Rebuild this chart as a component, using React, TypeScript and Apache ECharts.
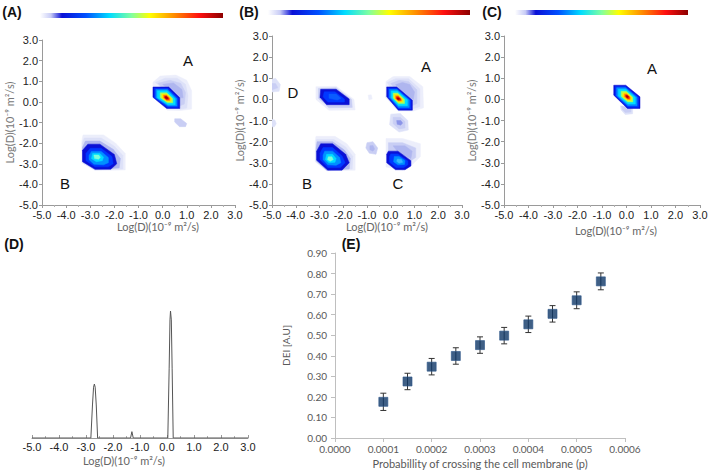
import React, { useEffect, useRef } from "react";
import * as echarts from "echarts";

// ---------- tick labels / axis ranges ----------
const LOG_MIN = -5;
const LOG_MAX = 3;
const AXIS_NAME = "Log(D)(10\u207B\u2079 m\u00B2/s)";

// ---------- Panel D: 1D projection spectrum ----------
const specLogD = [-5.0, -2.82, -2.76, -2.72, -2.69, -2.66, -2.62, -2.57, -1.35, -1.3, -1.25, 0.03, 0.08, 0.11, 0.13, 0.16, 0.19, 0.23, 3.0];
const specIntensity = [0, 0, 0.26, 0.4, 0.425, 0.4, 0.26, 0, 0, 0.05, 0, 0, 0.55, 0.93, 1.0, 0.93, 0.55, 0, 0];

// ---------- Panel E: DEI vs probability ----------
const probValues = [0.0001, 0.00015, 0.0002, 0.00025, 0.0003, 0.00035, 0.0004, 0.00045, 0.0005, 0.00055];
const deiValues = [0.176, 0.275, 0.347, 0.399, 0.452, 0.498, 0.553, 0.604, 0.67, 0.762];
const deiErrors = [0.042, 0.04, 0.04, 0.04, 0.04, 0.04, 0.04, 0.04, 0.041, 0.041];

// ---------- contour levels (level key, polygon in log-D coordinates) ----------
type Poly = [string, number[][]];

const contoursA: Poly[] = [
  // peak A halo
  ["l1", [[-0.4, 0.95], [-0.1, 1.25], [0.55, 1.3], [1.0, 1.05], [1.2, 0.55], [1.2, -0.35], [0.75, -0.42], [0.2, -0.4], [-0.42, 0.25]]],
  ["l2", [[-0.3, 0.95], [0.1, 1.15], [0.6, 1.15], [0.95, 0.85], [1.05, 0.3], [1.0, -0.3], [0.72, -0.36], [0.3, 0.3]]],
  ["l3", [[-0.2, 0.9], [0.3, 1.05], [0.75, 0.9], [0.95, 0.45], [0.9, -0.1], [0.7, -0.2], [0.3, 0.3]]],
  ["l4", [[0.0, 0.85], [0.45, 0.92], [0.8, 0.6], [0.85, 0.2], [0.6, 0.2]]],
  // peak A core
  ["db", [[-0.4, 0.72], [0.25, 0.72], [0.71, 0.2], [0.71, -0.32], [0.17, -0.32], [-0.4, 0.22]]],
  ["b", [[-0.34, 0.66], [0.22, 0.66], [0.65, 0.18], [0.65, -0.26], [0.2, -0.26], [-0.34, 0.2]]],
  ["lb", [[-0.28, 0.6], [0.2, 0.6], [0.59, 0.16], [0.59, -0.2], [0.22, -0.2], [-0.28, 0.2]]],
  ["c", [[-0.22, 0.54], [0.19, 0.54], [0.52, 0.15], [0.52, -0.14], [0.22, -0.14], [-0.22, 0.2]]],
  ["g", [[-0.1, 0.44], [0.17, 0.44], [0.42, 0.16], [0.42, -0.04], [0.2, -0.04], [-0.1, 0.2]]],
  ["y", [[-0.03, 0.38], [0.16, 0.38], [0.35, 0.17], [0.35, 0.02], [0.18, 0.02], [-0.03, 0.2]]],
  ["o", [[0.03, 0.33], [0.16, 0.33], [0.3, 0.18], [0.3, 0.07], [0.17, 0.07], [0.03, 0.2]]],
  ["r", [[0.08, 0.29], [0.16, 0.29], [0.25, 0.19], [0.25, 0.11], [0.16, 0.11], [0.08, 0.19]]],
  ["dr", [[0.11, 0.25], [0.17, 0.25], [0.21, 0.2], [0.21, 0.15], [0.15, 0.15], [0.11, 0.19]]],
  // small spot
  ["l3", [[0.5, -0.82], [0.75, -0.82], [1.0, -1.05], [0.95, -1.2], [0.7, -1.2], [0.5, -0.98]]],
  // peak B
  ["l1", [[-3.3, -1.6], [-2.45, -1.6], [-1.95, -2.0], [-1.55, -2.5], [-1.55, -3.3], [-2.8, -3.33], [-3.35, -2.95], [-3.35, -1.9]]],
  ["l2", [[-3.25, -1.75], [-2.55, -1.75], [-2.0, -2.15], [-1.65, -2.6], [-1.65, -3.25], [-2.8, -3.3], [-3.33, -2.95], [-3.33, -2.0]]],
  ["l4", [[-3.2, -1.9], [-2.6, -1.9], [-2.05, -2.3], [-1.75, -2.75], [-1.8, -3.2], [-2.8, -3.28], [-3.32, -2.9], [-3.32, -2.2]]],
  ["db", [[-3.1, -2.05], [-2.6, -2.05], [-2.0, -2.55], [-1.9, -3.0], [-2.15, -3.27], [-2.8, -3.27], [-3.32, -2.9], [-3.32, -2.35]]],
  ["b", [[-3.0, -2.25], [-2.55, -2.25], [-2.1, -2.65], [-2.05, -3.0], [-2.25, -3.15], [-2.8, -3.15], [-3.18, -2.85], [-3.18, -2.5]]],
  ["lb", [[-2.95, -2.4], [-2.55, -2.4], [-2.25, -2.7], [-2.25, -2.95], [-2.45, -3.05], [-2.85, -3.02], [-3.05, -2.8], [-3.05, -2.6]]],
  ["c", [[-2.9, -2.5], [-2.6, -2.5], [-2.45, -2.68], [-2.5, -2.85], [-2.75, -2.9], [-2.95, -2.75]]],
  ["aq", [[-2.85, -2.58], [-2.65, -2.58], [-2.58, -2.68], [-2.65, -2.78], [-2.82, -2.75]]],
];

const contoursB: Poly[] = [
  // left-edge faint spots
  ["l2", [[-5.0, 0.95], [-4.85, 1.0], [-4.65, 0.7], [-4.7, 0.38], [-5.0, 0.35]]],
  ["l3", [[-5.0, 0.75], [-4.85, 0.75], [-4.75, 0.55], [-5.0, 0.45]]],
  ["l2", [[-5.0, -0.95], [-4.88, -0.98], [-4.82, -1.15], [-4.9, -1.3], [-5.0, -1.3]]],
  ["l1", [[-0.95, 0.2], [-0.82, 0.22], [-0.78, 0.02], [-0.92, -0.02]]],
  // D
  ["l1", [[-3.15, 0.6], [-2.3, 0.62], [-1.55, 0.0], [-1.5, -0.5], [-2.6, -0.52], [-3.15, 0.0]]],
  ["l3", [[-3.05, 0.52], [-2.3, 0.55], [-1.65, 0.0], [-1.62, -0.38], [-2.6, -0.4], [-3.05, 0.05]]],
  ["db", [[-2.95, 0.48], [-2.3, 0.48], [-1.75, 0.02], [-1.75, -0.25], [-2.7, -0.25], [-2.98, 0.1]]],
  ["b", [[-2.8, 0.36], [-2.35, 0.36], [-1.95, 0.02], [-1.95, -0.13], [-2.65, -0.13], [-2.85, 0.12]]],
  ["b2", [[-2.6, 0.25], [-2.3, 0.25], [-2.1, 0.05], [-2.25, -0.03], [-2.6, 0.05]]],
  // A halo
  ["l1", [[-0.2, 0.85], [0.1, 1.08], [0.8, 1.08], [1.35, 0.6], [1.38, -0.4], [0.95, -0.55], [0.3, -0.55], [-0.22, 0.1]]],
  ["l2", [[-0.15, 0.8], [0.2, 0.98], [0.75, 0.98], [1.22, 0.5], [1.22, -0.35], [0.91, -0.45], [0.3, 0.0]]],
  ["l3", [[0.0, 0.75], [0.35, 0.9], [0.75, 0.85], [1.1, 0.45], [1.1, -0.2], [0.9, -0.3], [0.4, 0.2]]],
  ["l4", [[0.2, 0.7], [0.5, 0.8], [0.8, 0.7], [1.0, 0.35], [0.95, 0.0], [0.6, 0.2]]],
  // A core
  ["db", [[-0.17, 0.59], [0.25, 0.59], [0.91, -0.04], [0.91, -0.51], [0.32, -0.51], [-0.17, 0.12]]],
  ["b", [[-0.11, 0.53], [0.25, 0.53], [0.85, -0.04], [0.85, -0.45], [0.33, -0.45], [-0.11, 0.1]]],
  ["lb", [[-0.05, 0.47], [0.26, 0.47], [0.78, -0.03], [0.78, -0.38], [0.33, -0.38], [-0.05, 0.1]]],
  ["c", [[0.02, 0.4], [0.27, 0.4], [0.7, -0.02], [0.7, -0.3], [0.33, -0.3], [0.02, 0.08]]],
  ["g", [[0.1, 0.3], [0.29, 0.3], [0.58, 0.0], [0.58, -0.2], [0.33, -0.2], [0.1, 0.06]]],
  ["y", [[0.15, 0.23], [0.3, 0.23], [0.5, 0.02], [0.5, -0.13], [0.32, -0.13], [0.15, 0.05]]],
  ["o", [[0.2, 0.17], [0.31, 0.17], [0.45, 0.02], [0.45, -0.08], [0.32, -0.08], [0.2, 0.04]]],
  ["r", [[0.24, 0.12], [0.32, 0.12], [0.41, 0.03], [0.41, -0.04], [0.32, -0.04], [0.24, 0.03]]],
  ["dr", [[0.28, 0.07], [0.33, 0.07], [0.37, 0.02], [0.33, -0.01], [0.28, 0.01]]],
  // spot below A
  ["l2", [[0.0, -0.7], [0.4, -0.67], [0.72, -1.0], [0.74, -1.45], [0.35, -1.55], [-0.05, -1.2]]],
  ["l3", [[0.1, -0.85], [0.4, -0.85], [0.6, -1.05], [0.6, -1.35], [0.35, -1.4], [0.1, -1.15]]],
  ["l5", [[0.25, -1.0], [0.42, -1.0], [0.5, -1.12], [0.42, -1.22], [0.27, -1.18]]],
  // spot between B and C
  ["l3", [[-1.0, -2.05], [-0.75, -2.0], [-0.55, -2.3], [-0.62, -2.6], [-0.9, -2.55], [-1.05, -2.3]]],
  ["l4", [[-0.88, -2.2], [-0.75, -2.18], [-0.68, -2.35], [-0.75, -2.45], [-0.88, -2.38]]],
  // C
  ["l1", [[-0.2, -1.85], [0.5, -1.85], [1.25, -2.1], [1.25, -2.7], [0.9, -3.1], [0.5, -3.35], [-0.2, -3.2]]],
  ["l3", [[-0.1, -2.05], [0.5, -2.05], [1.05, -2.3], [1.05, -2.75], [0.85, -2.9], [-0.1, -2.6]]],
  ["l4", [[0.1, -2.2], [0.6, -2.2], [0.9, -2.45], [0.85, -2.8], [0.3, -2.5]]],
  ["db", [[-0.1, -2.45], [0.3, -2.45], [0.85, -2.9], [0.85, -3.15], [0.6, -3.33], [0.2, -3.33], [-0.17, -3.0], [-0.17, -2.6]]],
  ["b", [[0.0, -2.58], [0.3, -2.58], [0.72, -2.92], [0.72, -3.1], [0.55, -3.22], [0.22, -3.22], [-0.05, -2.98], [-0.05, -2.7]]],
  ["lb", [[0.15, -2.7], [0.35, -2.7], [0.6, -2.9], [0.58, -3.08], [0.3, -3.1], [0.12, -2.95]]],
  ["lb2", [[0.28, -2.82], [0.45, -2.85], [0.5, -2.98], [0.35, -3.02], [0.25, -2.93]]],
  // B
  ["l1", [[-3.15, -1.75], [-2.35, -1.75], [-1.85, -2.1], [-1.5, -2.6], [-1.5, -3.35], [-2.7, -3.38], [-3.18, -2.95], [-3.18, -2.0]]],
  ["l2", [[-3.12, -1.9], [-2.4, -1.9], [-1.9, -2.25], [-1.6, -2.7], [-1.62, -3.3], [-2.7, -3.35], [-3.15, -2.95], [-3.15, -2.15]]],
  ["l4", [[-3.1, -2.0], [-2.45, -2.0], [-1.95, -2.4], [-1.7, -2.8], [-1.75, -3.3], [-2.7, -3.35], [-3.14, -2.9], [-3.14, -2.3]]],
  ["db", [[-2.95, -2.1], [-2.45, -2.1], [-1.9, -2.6], [-1.75, -3.0], [-2.05, -3.35], [-2.65, -3.35], [-3.12, -2.88], [-3.12, -2.45]]],
  ["b", [[-2.85, -2.28], [-2.45, -2.28], [-2.05, -2.68], [-1.92, -3.0], [-2.12, -3.22], [-2.65, -3.22], [-2.98, -2.85], [-2.98, -2.55]]],
  ["lb", [[-2.78, -2.45], [-2.45, -2.45], [-2.15, -2.75], [-2.1, -3.0], [-2.3, -3.12], [-2.65, -3.1], [-2.85, -2.85], [-2.85, -2.65]]],
  ["c", [[-2.7, -2.6], [-2.45, -2.6], [-2.3, -2.8], [-2.35, -2.98], [-2.6, -3.0], [-2.75, -2.85]]],
  ["aq", [[-2.63, -2.72], [-2.48, -2.72], [-2.42, -2.85], [-2.55, -2.93], [-2.66, -2.85]]],
];

const contoursC: Poly[] = [
  ["l2", [[-0.25, -0.3], [0.25, -0.42], [0.25, -0.68], [-0.05, -0.72], [-0.22, -0.5]]],
  ["l3", [[-0.2, -0.32], [0.18, -0.42], [0.18, -0.6], [-0.05, -0.62], [-0.17, -0.48]]],
  ["db", [[-0.52, 0.67], [-0.03, 0.67], [0.55, 0.12], [0.55, -0.43], [0.04, -0.43], [-0.52, 0.2]]],
  ["b", [[-0.46, 0.61], [-0.04, 0.61], [0.49, 0.1], [0.49, -0.37], [0.05, -0.37], [-0.46, 0.18]]],
  ["lb", [[-0.4, 0.55], [-0.04, 0.55], [0.43, 0.1], [0.43, -0.3], [0.06, -0.3], [-0.4, 0.17]]],
  ["c", [[-0.33, 0.48], [-0.03, 0.48], [0.36, 0.1], [0.36, -0.22], [0.06, -0.22], [-0.33, 0.16]]],
  ["g", [[-0.22, 0.38], [-0.01, 0.38], [0.26, 0.1], [0.26, -0.12], [0.05, -0.12], [-0.22, 0.14]]],
  ["y", [[-0.15, 0.31], [0.0, 0.31], [0.2, 0.1], [0.2, -0.05], [0.05, -0.05], [-0.15, 0.13]]],
  ["o", [[-0.09, 0.26], [0.01, 0.26], [0.15, 0.11], [0.15, 0.0], [0.05, 0.0], [-0.09, 0.12]]],
  ["r", [[-0.04, 0.21], [0.02, 0.21], [0.11, 0.12], [0.11, 0.04], [0.04, 0.04], [-0.04, 0.12]]],
  ["dr", [[0.0, 0.17], [0.04, 0.17], [0.08, 0.12], [0.05, 0.08], [0.0, 0.1]]],
];

const LEVEL_COLORS: Record<string, string> = {
  l1: "#eceefb", l2: "#dde1f8", l3: "#c9cef4", l4: "#afb6ef", l5: "#8b94e8",
  db: "#0a10d6", b: "#0038ff", b2: "#0a5cff", lb: "#0090ff", lb2: "#3ab8ff",
  c: "#00dcff", aq: "#7affd8", g: "#a6ff5a", y: "#ffe600", o: "#ff8a00", r: "#f01414", dr: "#a00000",
};

const JET_STOPS = [
  { offset: 0, color: "#ffffff" },
  { offset: 0.06, color: "#c8ccf6" },
  { offset: 0.12, color: "#0a10d6" },
  { offset: 0.25, color: "#0050ff" },
  { offset: 0.38, color: "#00dcff" },
  { offset: 0.5, color: "#80ffa0" },
  { offset: 0.6, color: "#ffff00" },
  { offset: 0.73, color: "#ff9000" },
  { offset: 0.87, color: "#ff1010" },
  { offset: 1, color: "#8c0000" },
];

const TICK_FONT = "Liberation Sans";
const NAME_FONT = "Lato";

function logXAxis(gridIndex: number) {
  return {
    type: "value", gridIndex, min: LOG_MIN, max: LOG_MAX, interval: 1,
    axisLine: { show: true, onZero: false, lineStyle: { color: "#9a9a9a", width: 1 } },
    axisTick: { show: true, length: 3, lineStyle: { color: "#9a9a9a" } },
    minorTick: { show: true, splitNumber: 2, length: 2, lineStyle: { color: "#b0b0b0" } },
    splitLine: { show: false },
    axisLabel: { margin: 4, fontSize: 11, color: "#222", fontFamily: TICK_FONT, formatter: (v: number) => v.toFixed(1) },
  };
}
function logYAxis(gridIndex: number) {
  return {
    type: "value", gridIndex, min: LOG_MIN, max: LOG_MAX, interval: 1,
    axisLine: { show: true, onZero: false, lineStyle: { color: "#9a9a9a", width: 1 } },
    axisTick: { show: true, length: 3, lineStyle: { color: "#9a9a9a" } },
    splitLine: { show: false },
    axisLabel: { margin: 4, fontSize: 11, color: "#222", fontFamily: TICK_FONT, formatter: (v: number) => v.toFixed(1) },
    name: AXIS_NAME, nameLocation: "middle", nameGap: 27,
    nameTextStyle: { fontSize: 11, color: "#777", fontFamily: NAME_FONT },
  };
}

function contourSeries(idx: number, polys: Poly[]) {
  return {
    type: "custom", xAxisIndex: idx, yAxisIndex: idx, coordinateSystem: "cartesian2d",
    data: polys.map((p) => [p[1][0][0], p[1][0][1]]),
    encode: { x: 0, y: 1 },
    clip: true, silent: true,
    renderItem: (params: any, api: any) => {
      const poly = polys[params.dataIndex];
      const pts = poly[1].map((v) => api.coord(v));
      const col = LEVEL_COLORS[poly[0]];
      return { type: "polygon", shape: { points: pts }, style: { fill: col, stroke: col, lineWidth: 0.5 } };
    },
  };
}

function label(text: string, x: number, y: number, size = 14, bold = false, color = "#111") {
  return {
    type: "text", x, y,
    style: { text, fill: color, font: `${bold ? "bold " : ""}${size}px '${TICK_FONT}'`, textAlign: "center", textVerticalAlign: "middle" },
  };
}

function nameText(x: number, y: number, size = 11) {
  return {
    type: "text", x, y,
    style: { text: AXIS_NAME, fill: "#666", font: `${size}px '${NAME_FONT}'`, textAlign: "center", textVerticalAlign: "middle" },
  };
}

function colorBar(x: number, y: number, w: number, h: number) {
  return {
    type: "rect", shape: { x, y, width: w, height: h },
    style: { fill: new echarts.graphic.LinearGradient(0, 0, 1, 0, JET_STOPS) },
  };
}

export default function App() {
  const ref = useRef<HTMLDivElement>(null);
  useEffect(() => {
    if (!ref.current) return;
    const chart = echarts.init(ref.current, null, { renderer: "svg" });
    const option: any = {
      animation: false,
      backgroundColor: "#ffffff",
      grid: [
        { left: 42, top: 40, width: 193, height: 165, outerBoundsMode: "none" },
        { left: 272, top: 36, width: 190, height: 169, outerBoundsMode: "none" },
        { left: 504, top: 36, width: 196, height: 169, outerBoundsMode: "none" },
        { left: 32, top: 311, width: 216, height: 127, outerBoundsMode: "none" },
        { left: 335, top: 253, width: 290, height: 185, outerBoundsMode: "none" },
      ],
      xAxis: [
        logXAxis(0), logXAxis(1), logXAxis(2),
        {
          type: "value", gridIndex: 3, min: LOG_MIN, max: LOG_MAX, interval: 1,
          axisLine: { show: true, onZero: false, lineStyle: { color: "#9a9a9a" } },
          axisTick: { show: true, inside: true, length: 3, lineStyle: { color: "#9a9a9a" } },
          minorTick: { show: true, splitNumber: 2, length: 2, lineStyle: { color: "#b0b0b0" } },
          splitLine: { show: false },
          axisLabel: { margin: 3, fontSize: 11, color: "#222", fontFamily: TICK_FONT, formatter: (v: number) => v.toFixed(1) },
        },
        {
          type: "value", gridIndex: 4, min: 0, max: 0.0006, interval: 0.0001,
          axisLine: { show: true, onZero: false, lineStyle: { color: "#bfbfbf" } },
          axisTick: { show: true, length: 4, lineStyle: { color: "#bfbfbf" } },
          splitLine: { show: false },
          axisLabel: { margin: 6, fontSize: 10, color: "#595959", fontFamily: NAME_FONT, formatter: (v: number) => v.toFixed(4) },
          name: "Probabillity of crossing the cell membrane (p)", nameLocation: "middle", nameGap: 20,
          nameTextStyle: { fontSize: 11, color: "#595959", fontFamily: NAME_FONT },
        },
      ],
      yAxis: [
        logYAxis(0), logYAxis(1), logYAxis(2),
        { type: "value", gridIndex: 3, min: 0, max: 1, show: false, splitLine: { show: false } },
        {
          type: "value", gridIndex: 4, min: 0, max: 0.9, interval: 0.1,
          axisLine: { show: true, onZero: false, lineStyle: { color: "#bfbfbf" } },
          axisTick: { show: true, length: 4, lineStyle: { color: "#bfbfbf" } },
          splitLine: { show: false },
          axisLabel: { margin: 8, fontSize: 10, color: "#595959", fontFamily: NAME_FONT, formatter: (v: number) => v.toFixed(2) },
          name: "DEI [A.U]", nameLocation: "middle", nameGap: 44,
          nameTextStyle: { fontSize: 10, color: "#595959", fontFamily: NAME_FONT },
        },
      ],
      series: [
        contourSeries(0, contoursA),
        contourSeries(1, contoursB),
        contourSeries(2, contoursC),
        {
          type: "line", xAxisIndex: 3, yAxisIndex: 3,
          data: specLogD.map((x, i) => [x, specIntensity[i]]),
          showSymbol: false, symbol: "none",
          lineStyle: { color: "#555", width: 1 },
        },
        {
          type: "custom", xAxisIndex: 4, yAxisIndex: 4, coordinateSystem: "cartesian2d",
          data: probValues.map((p, i) => [p, deiValues[i], deiErrors[i]]),
          encode: { x: 0, y: 1 },
          renderItem: (params: any, api: any) => {
            const x = api.value(0), y = api.value(1), e = api.value(2);
            const top = api.coord([x, y + e]);
            const bot = api.coord([x, y - e]);
            const st = { stroke: "#333", lineWidth: 1 };
            return {
              type: "group",
              children: [
                { type: "line", shape: { x1: top[0], y1: top[1], x2: bot[0], y2: bot[1] }, style: st },
                { type: "line", shape: { x1: top[0] - 3, y1: top[1], x2: top[0] + 3, y2: top[1] }, style: st },
                { type: "line", shape: { x1: bot[0] - 3, y1: bot[1], x2: bot[0] + 3, y2: bot[1] }, style: st },
              ],
            };
          },
        },
        {
          type: "scatter", xAxisIndex: 4, yAxisIndex: 4,
          data: probValues.map((p, i) => [p, deiValues[i]]),
          symbol: "rect", symbolSize: 9,
          itemStyle: { color: "#0f3767", borderColor: "#2d5689", borderWidth: 0.8 },
        },
      ],
      graphic: [
        colorBar(40, 13, 183, 5),
        colorBar(268, 10, 202, 5),
        colorBar(515, 10, 173, 5),
        label("(A)", 12, 12, 14, true),
        label("(B)", 249, 12, 14, true),
        label("(C)", 492, 12, 14, true),
        label("(D)", 14, 244, 14, true),
        label("(E)", 351, 244, 14, true),
        label("A", 188, 60, 15),
        label("B", 65, 183, 15),
        label("A", 426, 66, 15),
        label("D", 293, 92, 15),
        label("B", 307, 183, 15),
        label("C", 398, 183, 15),
        label("A", 652, 68, 15),
        nameText(158, 226),
        nameText(387, 226),
        nameText(616, 230),
        nameText(124, 460, 11),
      ],
    };
    chart.setOption(option);
    return () => chart.dispose();
  }, []);
  return <div ref={ref} style={{ position: "fixed", left: 0, top: 0, width: 709, height: 472, background: "#fff" }} />;
}
